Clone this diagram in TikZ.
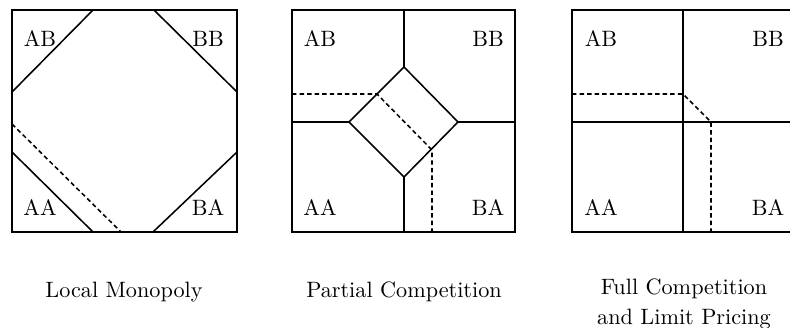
\documentclass[tikz,border=0pt]{standalone}
\begin{document}
\begin{tikzpicture}[x=0.45pt, y=-0.45pt, line width=0.7pt,
  dsh/.style={dash pattern=on 2pt off 1.4pt},
  captxt/.style={align=center, anchor=base}]
\useasboundingbox (0,0) rectangle (790,327);

% local monopoly
\draw (12,10) rectangle (237,232);
\draw (12,92)--(93,10) (154,10)--(237,92) (237,152)--(153,232) (12,152)--(93,232);
\draw[dsh] (12,124)--(121,232);
\node (lmAB) at (40,39) {AB};   \node (lmBB) at (208,39) {BB};
\node (lmAA) at (40,208) {AA};  \node (lmBA) at (208,208) {BA};
\node[captxt] (lm) at (124,297) {Local Monopoly};

% partial competition
\draw (292,10) rectangle (515,232);
\draw (404,10)--(404,67) (404,177)--(404,232) (292,122)--(349,122) (458,122)--(515,122);
\draw (404,67)--(458,122)--(404,177)--(349,122)--cycle;
\draw[dsh] (292,94)--(377,94)--(432,150)--(432,232);
\node (pcAB) at (320,39) {AB};  \node (pcBB) at (488,39) {BB};
\node (pcAA) at (320,208) {AA}; \node (pcBA) at (488,208) {BA};
\node[captxt] (pc) at (404,297) {Partial Competition};

% full competition
\draw (572,10) rectangle (795,232);
\draw (683,10)--(683,232) (572,122)--(795,122);
\draw[dsh] (572,94)--(683,94)--(711,122)--(711,232);
\node (fcAB) at (601,39) {AB};  \node (fcBB) at (768,39) {BB};
\node (fcAA) at (601,208) {AA}; \node (fcBA) at (768,208) {BA};
\node[captxt] (fc) at (684,324) {Full Competition\\[1.2pt] and Limit Pricing};
\end{tikzpicture}
\end{document}
